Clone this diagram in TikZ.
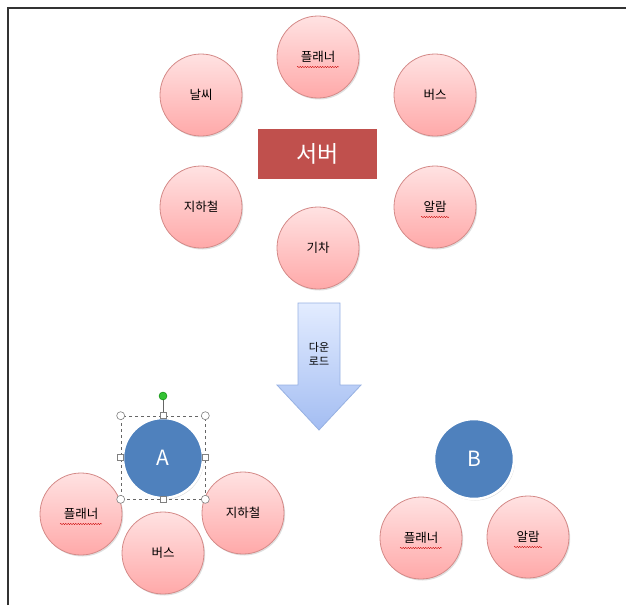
\documentclass[tikz,border=0pt]{standalone}
\usepackage{fontspec}
\setmainfont{Noto Sans CJK KR}
\usetikzlibrary{shadows,decorations.pathmorphing}
\definecolor{pinkedge}{HTML}{D48A88}
\definecolor{pinktop}{HTML}{FFE2E2}
\definecolor{pinkbot}{HTML}{FFA9A9}
\definecolor{srvred}{HTML}{C0504D}
\definecolor{blu}{HTML}{4F81BD}
\definecolor{arrtop}{HTML}{E3ECFF}
\definecolor{arrbot}{HTML}{A3BDF2}
\definecolor{arredge}{HTML}{97B1E2}
\tikzset{
  pinkc/.style={circle,minimum size=82pt,inner sep=0pt,draw=pinkedge,line width=0.8pt,
    top color=pinktop,bottom color=pinkbot,font=\fontsize{12.5}{14}\selectfont,
    drop shadow={shadow xshift=1.2pt,shadow yshift=-1.5pt,opacity=0.25}},
  bluec/.style={circle,minimum size=80pt,inner sep=0pt,fill=blu,draw=white,line width=2.5pt,
    text=white,font=\fontsize{21}{23}\selectfont,
    drop shadow={shadow xshift=1pt,shadow yshift=-1.5pt,opacity=0.3}},
  squig/.style={draw=red!80!black,line width=0.4pt,decorate,decoration={snake,amplitude=0.6pt,segment length=2.5pt}},
  hcirc/.style={circle,draw=gray,fill=white,minimum size=8pt,inner sep=0pt,line width=0.6pt},
  hsq/.style={rectangle,draw=gray,fill=white,minimum size=6pt,inner sep=0pt,line width=0.6pt},
}
\begin{document}
\begin{tikzpicture}[x=1pt,y=-1pt]
\useasboundingbox (0,0) rectangle (626,605);
% page frame
\coordinate (fa) at (8,605);
\coordinate (fb) at (8,8);
\coordinate (fc) at (626,8);
\draw[line width=1.2pt,black!80] (fa) -- (fb) -- (fc);
% top cluster
\node[pinkc] (planner) at (318,57) {플래너};
\node[pinkc] (weather) at (201,95) {날씨};
\node[pinkc] (bus) at (435,95) {버스};
\node[pinkc] (subway) at (201,207) {지하철};
\node[pinkc] (alarm) at (435,207) {알람};
\node[pinkc] (train) at (318,248) {기차};
\node[rectangle,fill=srvred,draw=white,line width=2.5pt,minimum width=122pt,minimum height=53pt,
  text=white,font=\fontsize{23}{25}\selectfont,
  drop shadow={shadow xshift=1pt,shadow yshift=-1.5pt,opacity=0.35}] (server) at (317.5,154) {서버};
\draw[squig] (297,67) -- (339,67);
\draw[squig] (421,217) -- (449,217);
% download arrow
\path[top color=arrtop,bottom color=arrbot,draw=arredge,line width=0.8pt]
  (298,303) -- (340,303) -- (340,385) -- (361,385) -- (319,430) -- (277,385) -- (298,385) -- cycle;
\node[align=center,font=\fontsize{11}{14}\selectfont] (dl) at (319,354) {다운\\로드};
% bottom left group
\node[pinkc] (lplanner) at (81,514) {플래너};
\node[pinkc] (lsubway) at (243,513) {지하철};
\node[pinkc] (lbus) at (163,553) {버스};
\draw[squig] (60,524) -- (102,524);
\node[bluec] (A) at (163,458) {A};
% selection frame
\node[rectangle,draw=black!60,dashed,line width=0.6pt,minimum width=84pt,minimum height=83pt,inner sep=0pt] (sel) at (163,457.5) {};
\draw[black!60,line width=0.6pt] (sel.north) -- (163,396);
\node[circle,fill=green!70!black!80,draw=green!50!black,minimum size=8pt,inner sep=0pt] (rot) at (163,396) {};
\foreach \a in {north west,north east,south west,south east} \node[hcirc] at (sel.\a) {};
\foreach \a in {north,south,east,west} \node[hsq] at (sel.\a) {};
% bottom right group
\node[pinkc] (rplanner) at (421,538) {플래너};
\node[pinkc] (ralarm) at (528,537) {알람};
\draw[squig] (400,548) -- (442,548);
\draw[squig] (514,547) -- (542,547);
\node[bluec] (B) at (474,459) {B};
\end{tikzpicture}
\end{document}
